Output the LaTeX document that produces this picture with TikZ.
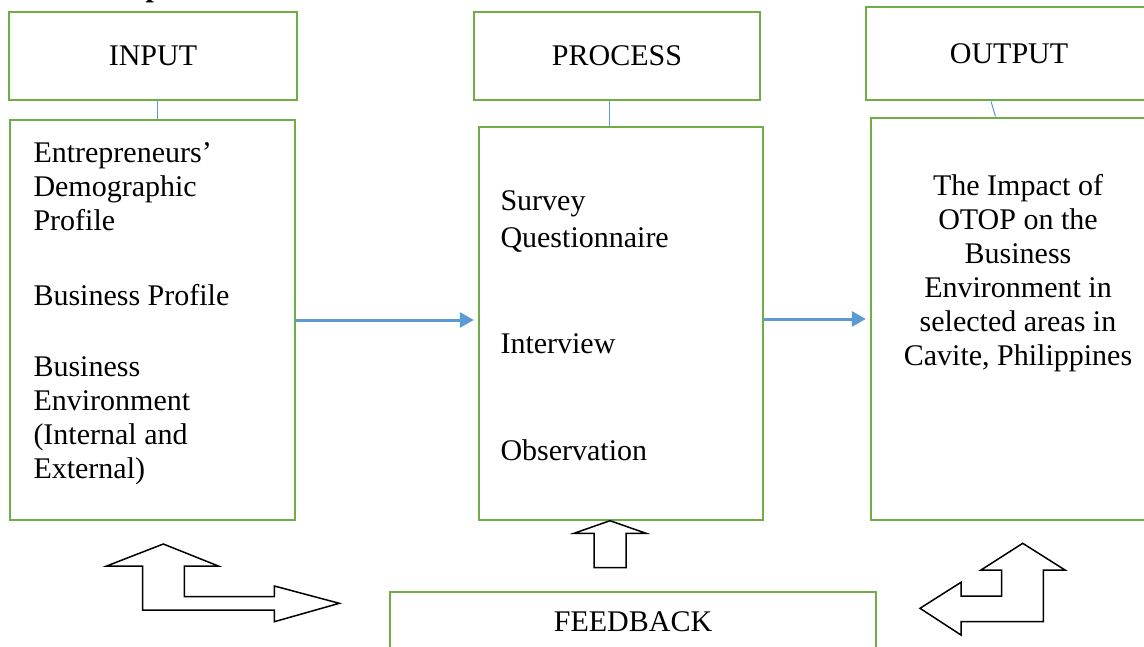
\documentclass[tikz,border=0pt]{standalone}
\usepackage{fontspec}
\setmainfont{Liberation Serif}
\usetikzlibrary{arrows.meta,fit,calc}

\definecolor{boxgreen}{RGB}{112,173,71}
\definecolor{linkblue}{RGB}{91,155,213}

\begin{document}
\begin{tikzpicture}[x=0.4pt,y=-0.4pt,>={Triangle[length=5.6pt,width=6pt]},
                    greenbox/.style={draw=boxgreen,line width=1.15pt,inner sep=0pt},
                    link/.style={draw=linkblue,line width=0.4pt},
                    flow/.style={->,draw=linkblue,line width=1.2pt,shorten >=1.5pt},
                    blockarrow/.style={draw=black,line width=0.6pt,line join=miter},
                    body/.style={inner sep=0pt,font=\fontsize{12}{13.6}\selectfont}]

  \useasboundingbox (0,0) rectangle (1144,646);

  \node[inner sep=0pt,anchor=base,font=\bfseries\fontsize{12}{14}\selectfont] (title) at (154,-3) {p};

  \node[greenbox,fit={(9,12) (297,100)}]     (inlabel)  {};
  \node[greenbox,fit={(10,120) (295,520)}]   (inbox)    {};
  \node[greenbox,fit={(474,12) (760,100)}]   (prlabel)  {};
  \node[greenbox,fit={(479,127) (763,520)}]  (prbox)    {};
  \node[greenbox,fit={(866,7) (1152,100)}]   (outlabel) {};
  \node[greenbox,fit={(871,118) (1152,520)}] (outbox)   {};
  \node[greenbox,fit={(390,592) (876,660)}]  (fblabel)  {};

  \node[body] (intext)  at (inlabel)  {INPUT};
  \node[body] (prtext)  at (prlabel)  {PROCESS};
  \node[body] (outtext) at (outlabel) {OUTPUT};
  \node[body] (fbtext)  at (633,622)  {FEEDBACK};

  \node[body,anchor=north west,align=left] (inputs) at (33,142)
    {Entrepreneurs'\\Demographic\\Profile\\[16.4pt]Business Profile\\[14.8pt]Business\\Environment\\(Internal and\\External)};
  \node[body,anchor=north west,align=left] (survey) at (500,190) {Survey\\[1.2pt]Questionnaire};
  \node[body,anchor=base west] (interview)   at (500,353) {Interview};
  \node[body,anchor=base west] (observation) at (500,460) {Observation};
  \node[body,anchor=north,align=center] (impact) at (1018,174)
    {The Impact of\\OTOP on the\\Business\\Environment in\\selected areas in\\Cavite, Philippines};

  \draw[link] ($(inlabel.south)+(4,0)$) coordinate (c1) -- (c1 |- inbox.north);
  \draw[link] ($(prlabel.south)+(-8,0)$) coordinate (c2) -- (c2 |- prbox.north);
  \draw[link] ($(outlabel.south)+(-18,0)$) -- ($(outbox.north)+(-16,0)$);

  \draw[flow] (inbox.east) -- (inbox.east -| prbox.west);
  \draw[flow] (outbox.west -| prbox.east) -- (outbox.west);

  \draw[blockarrow] (163.3,544) -- (218.3,566) -- (184.3,566) -- (184.3,596.7) -- (274.3,596.7)
    -- (274.3,586) -- (339.3,603.3) -- (274.3,621.7) -- (274.3,610) -- (142.7,610)
    -- (142.7,566) -- (106.7,566) -- cycle;
  \draw[blockarrow] (610,520.7) -- (646,533.3) -- (626,533.3) -- (626,567.7) -- (594,567.7)
    -- (594,533.3) -- (574,533.3) -- cycle;
  \draw[blockarrow] (1022.7,543.3) -- (1065,570) -- (1043.3,570) -- (1043.3,621.7) -- (961,621.7)
    -- (961,635) -- (920,608.3) -- (961,582.3) -- (961,596) -- (1001.7,596)
    -- (1001.7,570) -- (981,570) -- cycle;
\end{tikzpicture}
\end{document}
